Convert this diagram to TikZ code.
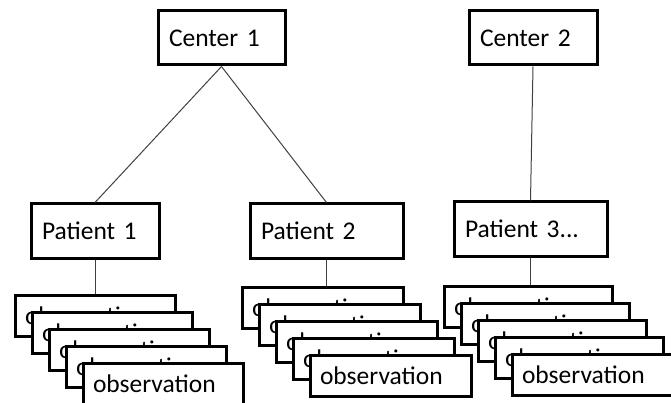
\documentclass[tikz,border=0pt]{standalone}
\usepackage{fontspec}
\setmainfont{Carlito}
\begin{document}
\begin{tikzpicture}[x=1pt,y=-1pt,
  box/.style={draw, line width=3pt, fill=white, minimum height=54pt, inner xsep=11pt, align=left, font=\fontsize{25.5}{30}\selectfont},
  obsbox/.style={box, minimum height=41pt, inner xsep=10pt},
  link/.style={draw=black!75, line width=1pt}]
\useasboundingbox (0,0) rectangle (671,403);
\node[box, text width=105pt] (c1) at (221.5,38) {Center 1};
\node[box, text width=106pt] (c2) at (533,38) {Center 2};
\node[box, text width=106pt] (p1) at (95,231) {Patient 1};
\node[box, text width=131pt] (p2) at (326.5,231) {Patient 2};
\node[box, text width=131pt] (p3) at (530.5,229) {Patient 3...};
% observation stacks
\foreach \k in {0,...,4} {
  \node[obsbox, text width=140pt] (a\k) at (95+17*\k,315.5+17*\k) {observation};
}
\foreach \k in {0,...,4} {
  \node[obsbox, text width=141pt] (b\k) at (322.5+17*\k,307.5+17*\k) {observation};
}
\foreach \k in {0,...,4} {
  \node[obsbox, text width=148pt] (d\k) at (528+17*\k,306.5+17*\k) {observation};
}
\draw[link] (c1.south) -- (p1.north);
\draw[link] (c1.south) -- (p2.north);
\draw[link] (c2.south) -- (p3.north);
\draw[link] (p1.south) -- (p1.south |- a0.north);
\draw[link] (p2.south) -- (p2.south |- b0.north);
\draw[link] (p3.south) -- (p3.south |- d0.north);
\end{tikzpicture}
\end{document}
